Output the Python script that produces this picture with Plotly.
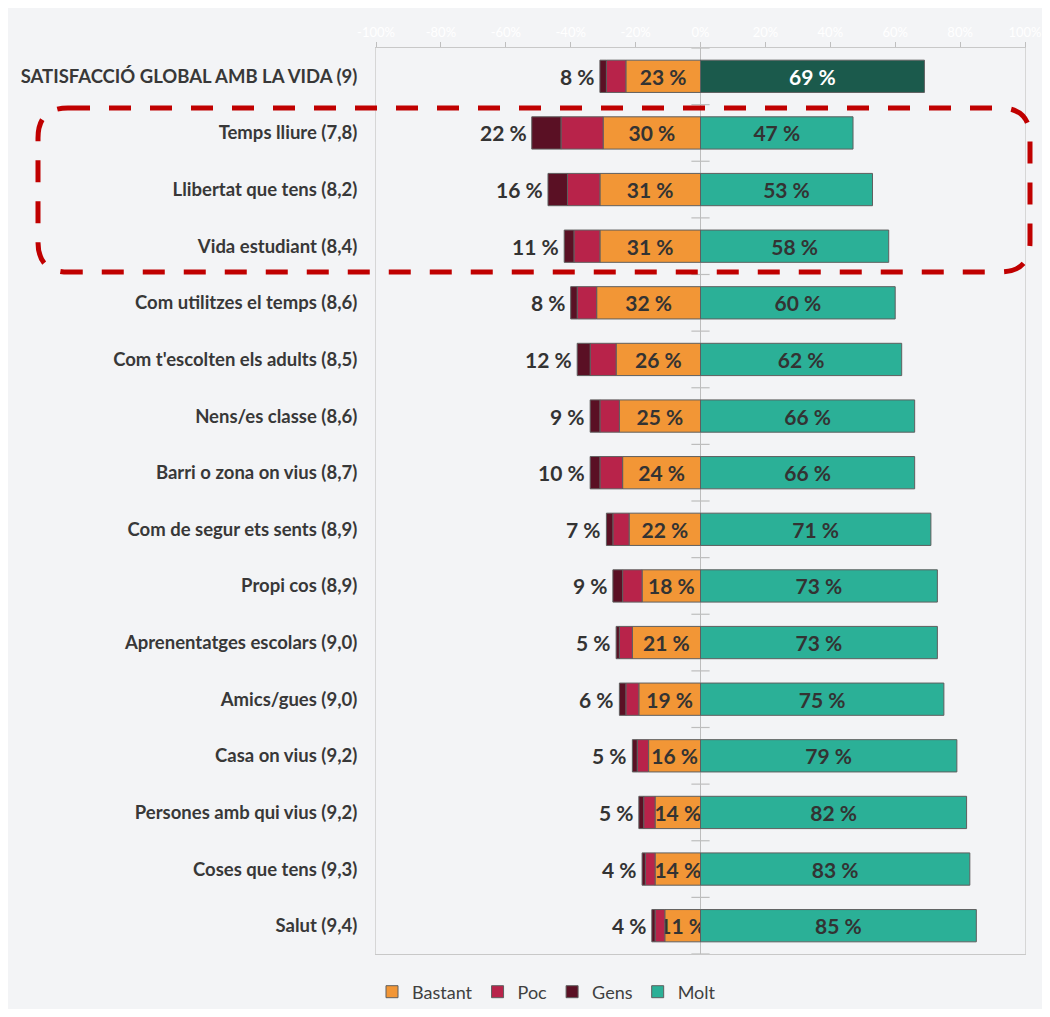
import plotly.graph_objects as go

# Dades
categories = [
    'SATISFACCIÓ GLOBAL AMB LA VIDA (9)',
    'Temps lliure (7,8)',
    'Llibertat que tens (8,2)',
    'Vida estudiant (8,4)',
    'Com utilitzes el temps (8,6)',
    "Com t'escolten els adults (8,5)",
    'Nens/es classe (8,6)',
    'Barri o zona on vius (8,7)',
    'Com de segur ets sents (8,9)',
    'Propi cos (8,9)',
    'Aprenentatges escolars (9,0)',
    'Amics/gues (9,0)',
    'Casa on vius (9,2)',
    'Persones amb qui vius (9,2)',
    'Coses que tens (9,3)',
    'Salut (9,4)',
]
bastant = [23, 30, 31, 31, 32, 26, 25, 24, 22, 18, 21, 19, 16, 14, 14, 11]
poc = [6, 13, 10, 8, 6, 8, 6, 7, 5, 6, 4, 4, 3.5, 3.5, 3, 3]
gens = [2, 9, 6, 3, 2, 4, 3, 3, 2, 3, 1, 2, 1.5, 1.5, 1, 1]
molt = [69, 47, 53, 58, 60, 62, 66, 66, 71, 73, 73, 75, 79, 82, 83, 85]
x_ticks = [-100, -80, -60, -40, -20, 0, 20, 40, 60, 80, 100]
x_ticktext = ['-100%', '-80%', '-60%', '-40%', '-20%', '0%', '20%', '40%', '60%', '80%', '100%']

# Colors
ORANGE = '#F29636'
CRIMSON = '#B8234A'
DARK = '#5A1024'
TEAL = '#2BB097'
DARK_GREEN = '#1B5A4C'
OUTLINE = '#5f5f5f'
TEXT = '#333333'
BG = '#F3F4F6'
FONT = 'Lato'

# Layout in pixels (page body has an 8px margin)
OFF = 8
W, H = 1050 - 2 * OFF, 1017 - 2 * OFF
L, T = 376 - OFF, 48 - OFF
R, B = W - (1025 - OFF), H - (954 - OFF)
plot_w = W - L - R
plot_h = H - T - B


def px_x(px):
    # reference pixel -> paper
    return (px - OFF - L) / plot_w


def px_y(py):
    return (H - B - (py - OFF)) / plot_h


ypos = list(range(len(categories)))
bar_w = 0.57
line = dict(color=OUTLINE, width=1)
value_font = dict(family=FONT, size=21, color=TEXT, weight='bold')

fig = go.Figure()
# negative side: closest to zero first
fig.add_trace(go.Bar(
    y=ypos, x=[-v for v in bastant], orientation='h', name='Bastant', width=bar_w,
    marker=dict(color=ORANGE, line=line),
    text=[f'{v} %' for v in bastant], textposition='inside', insidetextanchor='middle',
    constraintext='none', textangle=0, textfont=value_font, hoverinfo='skip'
))
fig.add_trace(go.Bar(
    y=ypos, x=[-v for v in poc], orientation='h', name='Poc', width=bar_w,
    marker=dict(color=CRIMSON, line=line), hoverinfo='skip'
))
fig.add_trace(go.Bar(
    y=ypos, x=[-v for v in gens], orientation='h', name='Gens', width=bar_w,
    marker=dict(color=DARK, line=line), hoverinfo='skip'
))
fig.add_trace(go.Bar(
    y=ypos[1:], x=molt[1:], orientation='h', name='Molt', width=bar_w,
    marker=dict(color=TEAL, line=line),
    text=[f'{v} %' for v in molt[1:]], textposition='inside', insidetextanchor='middle',
    constraintext='none', textangle=0, textfont=value_font, hoverinfo='skip'
))
# global satisfaction row in dark green
fig.add_trace(go.Bar(
    y=ypos[:1], x=molt[:1], orientation='h', name='Molt', width=bar_w, showlegend=False,
    marker=dict(color=DARK_GREEN, line=line),
    text=[f'{v} %' for v in molt[:1]], textposition='inside', insidetextanchor='middle',
    constraintext='none', textangle=0,
    textfont=dict(family=FONT, size=21, color='white', weight='bold'), hoverinfo='skip'
))

# small ticks on the zero line between rows
bounds = [i - 0.5 for i in range(len(categories) + 1)]
fig.add_trace(go.Scatter(
    x=[0] * len(bounds), y=bounds, mode='markers', showlegend=False, hoverinfo='skip',
    cliponaxis=False,
    marker=dict(symbol='line-ew', size=13, line=dict(color='#bdbdbd', width=1.2))
))

# labels with total Poc + Gens at the left of each bar
for i in ypos:
    low = poc[i] + gens[i]
    fig.add_annotation(
        x=-(bastant[i] + low), y=i, text=f'{round(low)} %', showarrow=False,
        xanchor='right', xshift=-3, font=value_font
    )

# dashed rounded box around rows 2-4
x0, x1 = px_x(38), px_x(1030)
y0, y1 = px_y(272), px_y(108)
rx, ry = 30 / plot_w, 30 / plot_h
path = (f'M {x0 + rx},{y1} L {x1 - rx},{y1} Q {x1},{y1} {x1},{y1 - ry} '
        f'L {x1},{y0 + ry} Q {x1},{y0} {x1 - rx},{y0} L {x0 + rx},{y0} '
        f'Q {x0},{y0} {x0},{y0 + ry} L {x0},{y1 - ry} Q {x0},{y1} {x0 + rx},{y1} Z')
fig.add_shape(type='path', path=path, xref='paper', yref='paper',
              line=dict(color='#C00000', width=5, dash='22px,19px'))

fig.update_xaxes(
    range=[-100, 100], side='top', tickvals=x_ticks, ticktext=x_ticktext,
    tickfont=dict(family=FONT, size=13, color='#FFFFFF'),
    ticks='outside', ticklen=5, tickcolor='#bfbfbf',
    showline=True, linecolor='#c8c8c8', linewidth=1, mirror=True,
    showgrid=False, zeroline=True, zerolinecolor='#bdbdbd', zerolinewidth=1.2,
    automargin=False, fixedrange=True
)
fig.update_yaxes(
    range=[len(categories) - 0.5, -0.5], tickvals=ypos, ticktext=categories,
    tickfont=dict(family=FONT, size=18.5, color='#383838', weight='bold'),
    ticks='', ticklabelstandoff=14,
    showline=True, linecolor='#d6d6d6', linewidth=1, mirror=True,
    showgrid=False, zeroline=False, automargin=False, fixedrange=True
)
fig.update_layout(
    width=W, height=H,
    margin=dict(l=L, r=R, t=T, b=B, autoexpand=False),
    barmode='relative',
    paper_bgcolor=BG, plot_bgcolor=BG,
    font=dict(family=FONT, color=TEXT),
    legend=dict(
        orientation='h', x=px_x(372), xanchor='left', y=px_y(992), yanchor='middle',
        font=dict(family=FONT, size=18, color='#404040'), traceorder='normal',
        bgcolor='rgba(0,0,0,0)'
    ),
)

fig.write_html('out.html')
